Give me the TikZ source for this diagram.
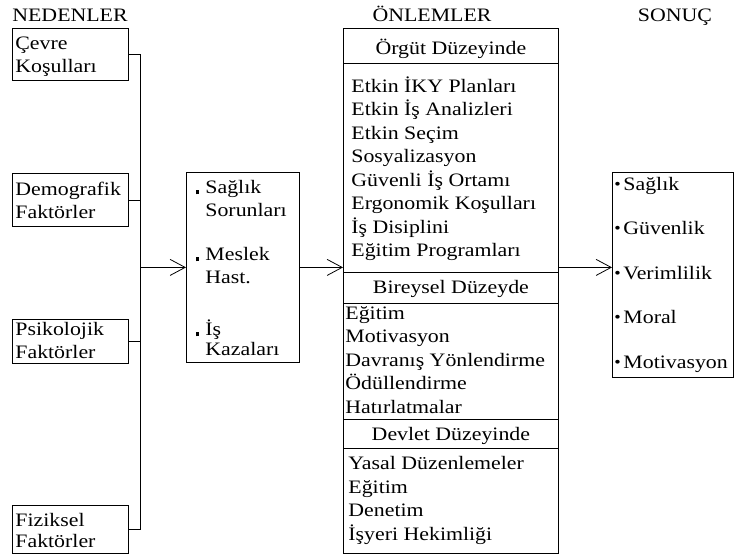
\documentclass[tikz,border=0pt]{standalone}
\usepackage{fontspec}
\setmainfont{Liberation Serif}[FakeStretch=1.15]
\usetikzlibrary{arrows.meta}

\begin{document}
\begin{tikzpicture}[x=1pt, y=-1pt, font=\fontsize{19}{23.5}\selectfont]
        \tikzstyle{box}=[rectangle, draw=black, line width=0.8pt, anchor=north west, inner ysep=0pt]
        \tikzstyle{head}=[anchor=base, inner sep=0pt]
        \tikzstyle{link}=[black, line width=0.8pt]
        \tikzstyle{arr}=[link, -{Straight Barb[length=15pt, width=16pt, line width=0.8pt]}]

        \useasboundingbox[fill=white] (0,0) rectangle (734,555);

        \node[head] (nedenler) at (70,21)  {NEDENLER};
        \node[head] (onlemler) at (432,21) {ÖNLEMLER};
        \node[head] (sonucbas) at (675,21) {SONUÇ};

        % nedenler
        \node[box, inner xsep=3pt, text height=21pt, text depth=31pt] (cevre) at (12,28)
            {\begin{tabular}[t]{@{}p{110pt}@{}} Çevre \\ Koşulları \end{tabular}};
        \node[box, inner xsep=3pt, text height=22pt, text depth=31pt] (demo) at (12,173)
            {\begin{tabular}[t]{@{}p{110pt}@{}} Demografik \\ Faktörler \end{tabular}};
        \node[box, inner xsep=3pt, text height=16pt, text depth=28pt] (psiko) at (12,319)
            {\begin{tabular}[t]{@{}p{110pt}@{}} Psikolojik \\ Faktörler \end{tabular}};
        \node[box, inner xsep=3pt, text height=21pt, text depth=27pt] (fizik) at (12,505)
            {\begin{tabular}[t]{@{}p{110pt}@{}} Fiziksel \\[-2.5pt] Faktörler \end{tabular}};

        % sorunlar
        \node[box, inner xsep=10pt, text height=21pt, text depth=169pt] (saglik) at (186,172)
            {\begin{tabular}[t]{@{}p{9pt}@{}p{84pt}@{}}
              \rule[-1pt]{3pt}{4pt} & Sağlık \\
                                    & Sorunları \\[20pt]
              \rule[-1pt]{3pt}{4pt} & Meslek \\
                                    & Hast. \\[28pt]
              \rule[-1pt]{3pt}{4pt} & İş \\[-3pt]
                                    & Kazaları
             \end{tabular}};

        % onlemler
        \node[box, minimum width=215pt, inner xsep=0pt, text height=26pt, text depth=9pt] (orgutbas) at (343,28) {Örgüt Düzeyinde};
        \node[box, inner xsep=8pt, text height=29pt, text depth=180pt] (orgut) at (343,63)
            {\begin{tabular}[t]{@{}p{199pt}@{}}
              Etkin İKY Planları \\ Etkin İş Analizleri \\ Etkin Seçim \\ Sosyalizasyon \\
              Güvenli İş Ortamı \\ Ergonomik Koşulları \\ İş Disiplini \\ Eğitim Programları
             \end{tabular}};
        \node[box, minimum width=215pt, inner xsep=0pt, text height=21pt, text depth=10pt] (bireybas) at (343,272) {Bireysel Düzeyde};
        \node[box, inner xsep=2pt, text height=16pt, text depth=100pt] (birey) at (343,303)
            {\begin{tabular}[t]{@{}p{211pt}@{}}
              Eğitim \\ Motivasyon \\ Davranış Yönlendirme \\ Ödüllendirme \\ Hatırlatmalar
             \end{tabular}};
        \node[box, minimum width=215pt, inner xsep=0pt, text height=21pt, text depth=8pt] (devletbas) at (343,419) {Devlet Düzeyinde};
        \node[box, inner xsep=5pt, text height=21.5pt, text depth=83.5pt] (devlet) at (343,448)
            {\begin{tabular}[t]{@{}p{205pt}@{}}
              Yasal Düzenlemeler \\ Eğitim \\ Denetim \\ İşyeri Hekimliği
             \end{tabular}};

        % sonuc
        \node[box, inner xsep=2pt, text height=18pt, text depth=187pt] (sonuc) at (612,172)
            {\begin{tabular}[t]{@{}p{9pt}@{}p{108pt}@{}}
              \raisebox{1pt}{\fontsize{16}{16}\selectfont •} & Sağlık \\[21pt]
              \raisebox{1pt}{\fontsize{16}{16}\selectfont •} & Güvenlik \\[21pt]
              \raisebox{1pt}{\fontsize{16}{16}\selectfont •} & Verimlilik \\[21pt]
              \raisebox{1pt}{\fontsize{16}{16}\selectfont •} & Moral \\[21pt]
              \raisebox{1pt}{\fontsize{16}{16}\selectfont •} & Motivasyon
             \end{tabular}};

        \coordinate (brk) at (140,0);
        \draw[link] (cevre.east) -- (cevre.east -| brk) -- (fizik.east -| brk) -- (fizik.east);
        \draw[link] (demo.east) -- (demo.east -| brk);
        \draw[link] (psiko.east) -- (psiko.east -| brk);

        \draw[arr] (saglik.west -| brk) -- (saglik.west);
        \draw[arr] (saglik.east) -- (saglik.east -| orgut.west);
        \draw[arr] (saglik.east -| orgut.east) -- (saglik.east -| sonuc.west);
    \end{tikzpicture}
\end{document}
